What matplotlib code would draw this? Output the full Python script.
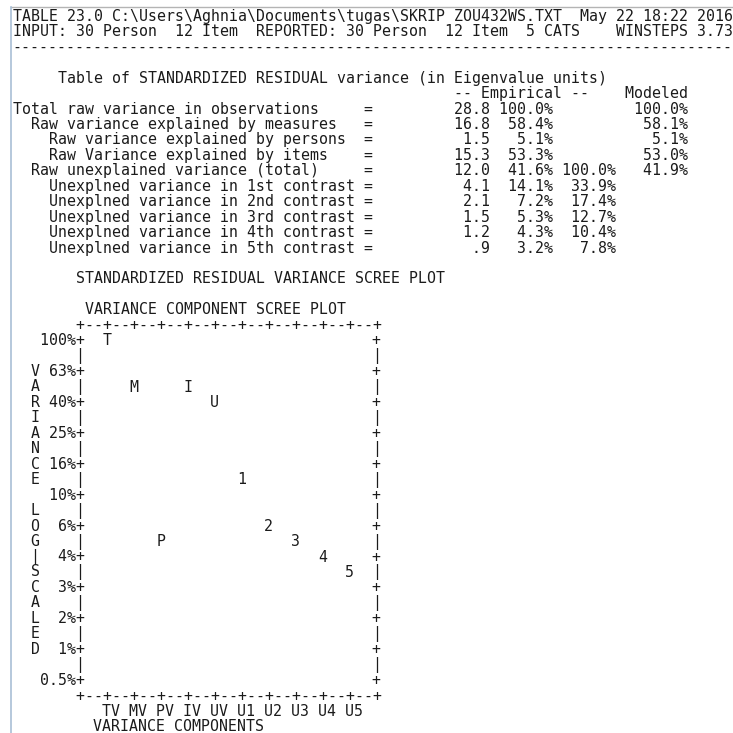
import math
import matplotlib
matplotlib.use("Agg")
import matplotlib.pyplot as plt

header_1 = r"TABLE 23.0 C:\Users\Aghnia\Documents\tugas\SKRIP ZOU432WS.TXT  May 22 18:22 2016"
header_2 = "INPUT: 30 Person  12 Item  REPORTED: 30 Person  12 Item  5 CATS    WINSTEPS 3.73"

row_labels = [
    "Total raw variance in observations",
    "  Raw variance explained by measures",
    "    Raw variance explained by persons",
    "    Raw Variance explained by items",
    "  Raw unexplained variance (total)",
    "    Unexplned variance in 1st contrast",
    "    Unexplned variance in 2nd contrast",
    "    Unexplned variance in 3rd contrast",
    "    Unexplned variance in 4th contrast",
    "    Unexplned variance in 5th contrast",
]
eigen_values = ["28.8", "16.8", "1.5", "15.3", "12.0", "4.1", "2.1", "1.5", "1.2", ".9"]
empirical_pct = ["100.0%", "58.4%", "5.1%", "53.3%", "41.6%", "14.1%", "7.2%", "5.3%", "4.3%", "3.2%"]
unexplained_pct = ["", "", "", "", "100.0%", "33.9%", "17.4%", "12.7%", "10.4%", "7.8%"]
modeled_pct = ["100.0%", "58.1%", "5.1%", "53.0%", "41.9%", "", "", "", "", ""]

# scree plot
components = ["TV", "MV", "PV", "IV", "UV", "U1", "U2", "U3", "U4", "U5"]
markers = ["T", "M", "P", "I", "U", "1", "2", "3", "4", "5"]
scree_pct = [100.0, 58.4, 5.1, 53.3, 41.6, 14.1, 7.2, 5.3, 4.3, 3.2]
scale_labels = ["100%", "63%", "40%", "25%", "16%", "10%", "6%", "4%", "3%", "2%", "1%", "0.5%"]
side_title = "VARIANCE LOG|SCALED"

# --[character grid]-----------------------------------------------------------
W, H = 733, 733
x0, cw = 12.6, 8.98          # left edge of column 0, char advance (px)
y0, lh = 16.3, 15.45         # centre of line 0, line height (px)
fsize = cw / 0.6021 * 72 / 100
ink = "#1b1b1b"
mono = "DejaVu Sans Mono"

# each entry: (line, column, text)
pieces = []
head = [header_1, header_2, "-" * 80, "",
        "     Table of STANDARDIZED RESIDUAL variance (in Eigenvalue units)",
        " " * 49 + "-- Empirical --    Modeled"]
for lab, v, p1, p2, m in zip(row_labels, eigen_values, empirical_pct, unexplained_pct, modeled_pct):
    s = lab.ljust(39) + "=" + " " * 9 + v.rjust(4) + p1.rjust(7) + p2.rjust(7)
    if m:
        s = s.ljust(66) + m.rjust(8)
    head.append(s.rstrip())
head += ["", "       STANDARDIZED RESIDUAL VARIANCE SCREE PLOT", "",
         "        VARIANCE COMPONENT SCREE PLOT"]
for i, s in enumerate(head):
    pieces.append((i, 0, s))

border = "       +" + "--+" * 11
n = len(head)
pieces.append((n, 0, border))
plot_top = n + 1
side = ["", ""] + list(side_title[:8]) + [""] + list(side_title[9:])
n_rows = 2 * len(scale_labels) - 1
for r in range(n_rows):
    ch = (side[r] if r < len(side) else "") or " "
    if r % 2 == 0:
        left_part, right_part = "  " + ch + scale_labels[r // 2].rjust(4) + "+", "+"
    else:
        left_part, right_part = "  " + ch + "    |", "|"
    pieces.append((plot_top + r, 0, left_part.rstrip() if left_part.strip() else ""))
    pieces.append((plot_top + r, 40, right_part))
plot_bottom = plot_top + n_rows - 1
pieces.append((plot_bottom + 1, 0, border))
pieces.append((plot_bottom + 2, 10, " ".join(components)))
pieces.append((plot_bottom + 3, 9, "VARIANCE COMPONENTS"))

# --[draw]---------------------------------------------------------------------
fig = plt.figure(figsize=(W / 100, H / 100), dpi=100)
fig.patch.set_facecolor("white")
ax = fig.add_axes([0, 0, 1, 1])
ax.set_xlim(0, W)
ax.set_ylim(H, 0)
ax.axis("off")

# window frame
ax.plot([11, W], [7, 7], color="#b4b4b4", lw=1)
ax.plot([11, 11], [7, H], color="#a9bfd6", lw=1.2)

for line, col, s in pieces:
    if s:
        ax.text(x0 + col * cw, y0 + line * lh, s, family=mono, fontsize=fsize,
                color=ink, ha="left", va="center")

# scree plot area: column 7 .. column 40, rows plot_top .. plot_bottom
left = (x0 + 7.5 * cw) / W
right = (x0 + 40.5 * cw) / W
top = 1 - (y0 + plot_top * lh) / H
bottom = 1 - (y0 + plot_bottom * lh) / H
sax = fig.add_axes([left, bottom, right - left, top - bottom])
sax.patch.set_alpha(0)
sax.axis("off")
sax.set_yscale("log")
sax.set_xlim(-1, len(components))
sax.set_ylim(100 * 10 ** (-(plot_bottom - plot_top) / 10), 100)

for k, (mk, pct) in enumerate(zip(markers, scree_pct)):
    row = math.ceil(-10 * math.log10(pct / 100) - 1e-9)   # winsteps snaps to a text row
    sax.text(k, 100 * 10 ** (-row / 10), mk, family=mono, fontsize=fsize,
             color=ink, ha="center", va="center")

fig.savefig("out.png", dpi=100, facecolor="white")
